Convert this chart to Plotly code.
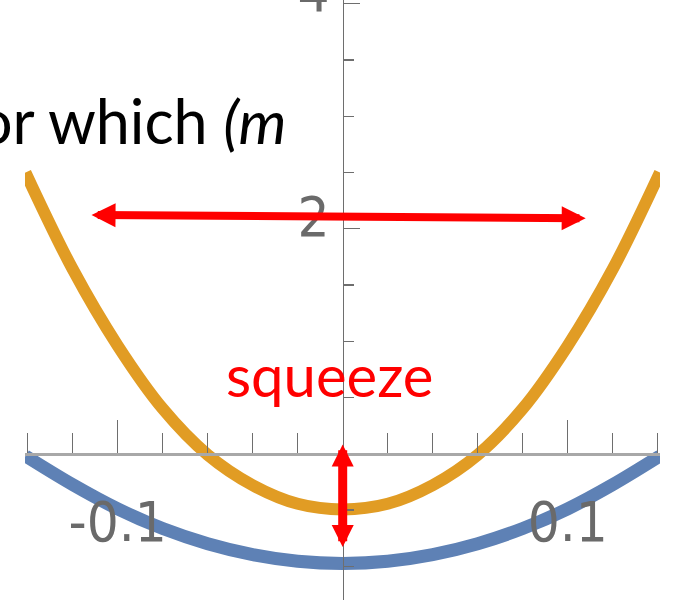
import plotly.graph_objects as go

# ---- data ----
x_vals = [-0.141, -0.12, -0.10, -0.08, -0.06, -0.04, -0.02, 0.0,
          0.02, 0.04, 0.06, 0.08, 0.10, 0.12, 0.141]
orange_vals = [2.50, 1.64, 0.96, 0.40, -0.01, -0.28, -0.445, -0.495,
               -0.445, -0.28, -0.01, 0.40, 0.96, 1.64, 2.50]
blue_vals = [-0.02, -0.275, -0.49, -0.665, -0.80, -0.897, -0.956, -0.975,
             -0.956, -0.897, -0.80, -0.665, -0.49, -0.275, -0.02]

x_major_ticks = [-0.1, 0.1]
x_major_text = ["-0.1", "0.1"]
x_minor_ticks = [-0.14, -0.12, -0.08, -0.06, -0.04, -0.02, 0.02, 0.04, 0.06, 0.08, 0.12, 0.14]
y_major_ticks = [2, 4]
y_major_text = ["2", "4"]
y_minor_ticks = [-1, -0.5, 0.5, 1, 1.5, 2.5, 3, 3.5]

# arrows (data coordinates)
h_arrow_tail = (-0.1123, 2.122)
h_arrow_head = (0.1080, 2.092)
v_arrow_tail = (0.0, 0.095)
v_arrow_head = (0.0, -0.829)

W, H = 674, 604
ORANGE = "#E19C24"
BLUE = "#5E81B5"
AXIS_GREY = "#6e6e6e"
LABEL_GREY = "#6a6a6a"

fig = go.Figure()
fig.add_trace(go.Scatter(x=x_vals, y=blue_vals, mode="lines",
                         line=dict(color=BLUE, width=13, shape="spline"),
                         hoverinfo="skip", showlegend=False))
fig.add_trace(go.Scatter(x=x_vals, y=orange_vals, mode="lines",
                         line=dict(color=ORANGE, width=12, shape="spline"),
                         hoverinfo="skip", showlegend=False))

label_font = dict(family="Liberation Sans Narrow, DejaVu Sans Condensed, Liberation Sans, Arial, sans-serif",
                  size=56, color=LABEL_GREY)

fig.update_layout(
    width=W, height=H,
    margin=dict(l=0, r=0, t=0, b=0, autoexpand=False),
    paper_bgcolor="white", plot_bgcolor="white",
    showlegend=False,
    xaxis=dict(
        domain=[25 / W, 660 / W],
        range=[-0.1412, 0.14102],
        anchor="free", position=(H - 453.7) / H,
        showgrid=False, zeroline=False,
        showline=True, linecolor="#a8a8a8", linewidth=3,
        tickmode="array", tickvals=x_major_ticks, ticktext=x_major_text,
        ticks="inside", ticklen=33, tickwidth=1.3, tickcolor=AXIS_GREY,
        minor=dict(tickmode="array", tickvals=x_minor_ticks, ticks="inside",
                   ticklen=20, tickwidth=1.3, tickcolor=AXIS_GREY, showgrid=False),
        tickfont=label_font, ticklabelstandoff=18, ticklabeloverflow="allow",
        automargin=False, fixedrange=True, layer="above traces",
    ),
    yaxis=dict(
        domain=[4 / H, 1],
        range=[-1.3004, 4.0329],
        anchor="free", position=342.7 / W,
        showgrid=False, zeroline=False,
        showline=True, linecolor=AXIS_GREY, linewidth=1.5,
        tickmode="array", tickvals=y_major_ticks, ticktext=y_major_text,
        ticks="inside", ticklen=16, tickwidth=1.3, tickcolor=AXIS_GREY,
        minor=dict(tickmode="array", tickvals=y_minor_ticks, ticks="inside",
                   ticklen=10, tickwidth=1.3, tickcolor=AXIS_GREY, showgrid=False),
        tickfont=label_font, ticklabelstandoff=2, ticklabelshift=-12,
        ticklabeloverflow="allow",
        automargin=False, fixedrange=True, layer="above traces",
    ),
)

# red double-headed arrows
fig.add_annotation(x=h_arrow_head[0], y=h_arrow_head[1], ax=h_arrow_tail[0], ay=h_arrow_tail[1],
                   xref="x", yref="y", axref="x", ayref="y", text="", showarrow=True,
                   arrowhead=2, startarrowhead=2, arrowside="end+start",
                   arrowsize=0.6, startarrowsize=0.6, arrowwidth=8, arrowcolor="#ff0000",
                   standoff=0, startstandoff=0)
fig.add_annotation(x=v_arrow_head[0], y=v_arrow_head[1], ax=v_arrow_tail[0], ay=v_arrow_tail[1],
                   xref="x", yref="y", axref="x", ayref="y", text="", showarrow=True,
                   arrowhead=2, startarrowhead=2, arrowside="end+start",
                   arrowsize=0.49, startarrowsize=0.49, arrowwidth=9, arrowcolor="#ff0000",
                   standoff=0, startstandoff=0)

# texts
fig.add_annotation(xref="paper", yref="paper", x=289 / W, y=1 - 120 / H,
                   xanchor="right", yanchor="middle", showarrow=False,
                   text="or which <i>(m</i>",
                   font=dict(family="Lato", size=61, color="black"))
fig.add_annotation(xref="paper", yref="paper", x=329.5 / W, y=1 - 374 / H,
                   xanchor="center", yanchor="middle", showarrow=False,
                   text="squeeze",
                   font=dict(family="Lato", size=58, color="#ff0000"))

fig.write_html("out.html",
               config={"displayModeBar": False, "staticPlot": True},
               post_script="document.body.style.margin='0';document.body.style.padding='0';")
